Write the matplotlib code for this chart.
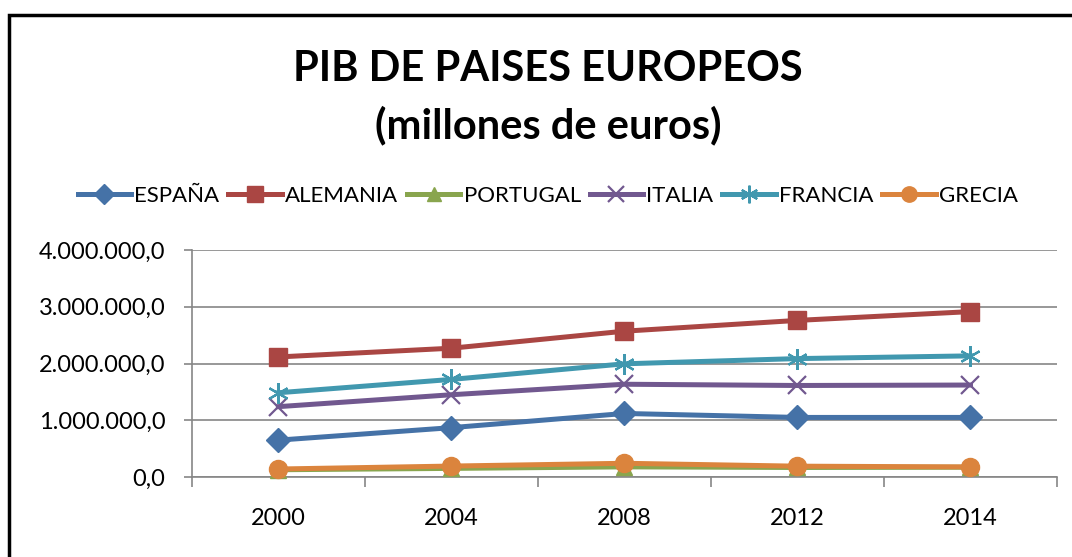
import matplotlib.pyplot as plt
from matplotlib.patches import Rectangle
from matplotlib.ticker import FuncFormatter, FixedLocator

plt.rcParams['font.family'] = ['Lato', 'DejaVu Sans']

# data (millones de euros)
years = ['2000', '2004', '2008', '2012', '2014']
espana = [650000, 870000, 1120000, 1050000, 1050000]
alemania = [2116000, 2270000, 2570000, 2760000, 2915000]
portugal = [128000, 152000, 179000, 168000, 173000]
italia = [1240000, 1450000, 1635000, 1613000, 1621000]
francia = [1485000, 1720000, 1995000, 2087000, 2135000]
grecia = [141000, 193000, 242000, 191000, 178000]

series = [
    ('ESPAÑA', espana, '#4572A7', 'D', 12),
    ('ALEMANIA', alemania, '#AA4643', 's', 13),
    ('PORTUGAL', portugal, '#89A54E', '^', 12),
    ('ITALIA', italia, '#71588F', 'x', 13),
    ('FRANCIA', francia, '#4198AF', (6, 2, 0), 15),
    ('GRECIA', grecia, '#DB843D', 'o', 13),
]

fig = plt.figure(figsize=(10.72, 5.57), dpi=100)
ax = fig.add_axes([0.179, 0.1436, 0.807, 0.4075])

x = list(range(len(years)))
for name, vals, color, marker, ms in series:
    ax.plot(x, vals, color=color, lw=3.6, marker=marker, ms=ms,
            mew=1.6 if marker in ('x', (6, 2, 0)) else 1,
            mec=color, mfc=color, label=name, clip_on=False, zorder=3)

ax.set_xlim(-0.5, len(years) - 0.5)
ax.set_ylim(0, 4000000)
ax.set_yticks([0, 1000000, 2000000, 3000000, 4000000])


def fmt(v, pos):
    s = f"{int(round(v)):,}".replace(',', '.')
    return s + ',0'


ax.yaxis.set_major_formatter(FuncFormatter(fmt))
ax.set_xticks(x)
ax.set_xticklabels(years)
ax.xaxis.set_minor_locator(FixedLocator([i - 0.5 for i in range(len(years) + 1)]))
ax.tick_params(axis='x', which='major', length=0, pad=22, labelsize=17)
ax.tick_params(axis='x', which='minor', length=7, color='#868686', width=1.2)
ax.tick_params(axis='y', length=6, color='#868686', width=1.2, labelsize=17, pad=13)
ax.grid(axis='y', color='#868686', lw=1.2)
ax.set_axisbelow(True)
for side in ('top', 'right'):
    ax.spines[side].set_visible(False)
for side in ('left', 'bottom'):
    ax.spines[side].set_color('#868686')
    ax.spines[side].set_linewidth(1.2)

fig.text(0.511, 0.825, 'PIB DE PAISES EUROPEOS\n(millones de euros)', ha='center',
         va='center', fontsize=30, fontweight='bold', linespacing=1.55)

fig.legend(loc='center', bbox_to_anchor=(0.511, 0.649), ncol=6, frameon=False,
           fontsize=16, handlelength=2.4, handletextpad=0.15, columnspacing=0.4,
           markerscale=0.85)

fig.patches.append(Rectangle((9 / 1072, -0.1), 1.2, 1.1 - 15 / 557, transform=fig.transFigure,
                             fill=False, ec='black', lw=2.5))

fig.savefig('out.png', dpi=100)
